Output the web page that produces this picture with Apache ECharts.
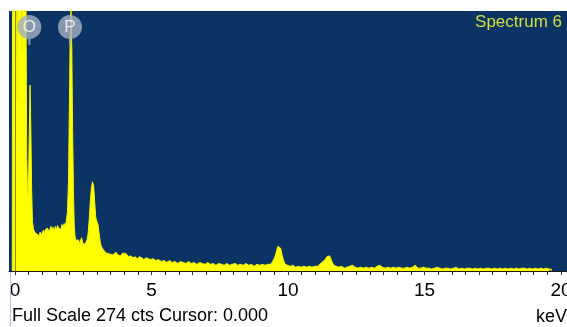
<!DOCTYPE html>
<html><head><meta charset="utf-8">
<script src="https://cdn.jsdelivr.net/npm/echarts@6/dist/echarts.min.js"></script>
<style>html,body{margin:0;padding:0;background:#fff}#c{width:567px;height:327px}</style>
</head><body><div id="c"></div>
<script>
// energies (keV) and counts
const energy = [-0.10,-0.09,0.06,0.08,0.10,0.24,0.26,0.28,0.40,0.43,0.46,0.49,0.52,0.55,0.58,0.61,0.64,0.68,0.72,0.76,0.80,0.84,0.88,0.92,0.96,1.00,1.04,1.08,1.12,1.16,1.20,1.24,1.28,1.32,1.36,1.40,1.44,1.48,1.52,1.56,1.60,1.64,1.68,1.72,1.76,1.80,1.84,1.88,1.92,1.96,1.99,2.02,2.05,2.08,2.11,2.14,2.17,2.20,2.24,2.28,2.32,2.36,2.40,2.44,2.48,2.52,2.56,2.60,2.64,2.68,2.72,2.76,2.80,2.84,2.88,2.92,2.96,3.00,3.04,3.08,3.12,3.16,3.22,3.28,3.34,3.40,3.46,3.52,3.58,3.64,3.70,3.76,3.82,3.88,3.94,4.00,4.08,4.16,4.24,4.32,4.40,4.48,4.56,4.64,4.72,4.80,4.88,4.96,5.06,5.16,5.26,5.36,5.46,5.56,5.66,5.76,5.86,5.96,6.06,6.16,6.26,6.36,6.46,6.56,6.66,6.76,6.86,6.96,7.06,7.16,7.26,7.36,7.46,7.56,7.66,7.76,7.86,7.96,8.06,8.16,8.26,8.36,8.46,8.56,8.66,8.76,8.86,8.96,9.06,9.16,9.26,9.36,9.44,9.52,9.58,9.63,9.68,9.73,9.78,9.84,9.90,9.98,10.08,10.18,10.28,10.38,10.48,10.58,10.68,10.78,10.88,10.98,11.08,11.16,11.24,11.30,11.36,11.42,11.47,11.52,11.57,11.62,11.68,11.76,11.86,11.96,12.06,12.16,12.26,12.36,12.46,12.56,12.66,12.76,12.86,12.96,13.06,13.16,13.26,13.36,13.46,13.56,13.66,13.76,13.86,13.96,14.06,14.16,14.26,14.36,14.46,14.56,14.66,14.76,14.86,14.96,15.06,15.16,15.26,15.36,15.46,15.56,15.66,15.76,15.86,15.96,16.06,16.16,16.26,16.36,16.46,16.56,16.66,16.76,16.86,16.96,17.06,17.16,17.26,17.36,17.46,17.56,17.66,17.76,17.86,17.96,18.06,18.16,18.26,18.36,18.46,18.56,18.66,18.76,18.86,18.96,19.06,19.16,19.26,19.36,19.46,19.56,19.64,19.66];
const counts = [0,300,300,180,300,300,230,300,300,120,78,85,140,196,150,85,52,44,41,43,39,40,37,41,38,40,43,40,44,42,45,41,44,47,43,46,42,47,44,48,45,47,44,49,46,50,47,53,62,95,170,245,275,235,150,85,48,36,32,30,33,29,31,35,30,32,28,30,33,40,55,74,88,94,90,72,56,52,49,40,31,26,23,21,19,20,18,19,17,18,20,17,18,16,19,17,18,15,16,14,15,13,15,14,12,14,13,12,13,11,12,10,11,9,11,9,10,8,10,9,8,10,8,9,7,9,8,7,9,7,8,6,8,7,6,8,6,7,8,6,7,6,8,6,7,5,7,6,7,6,7,7,10,15,21,26,27,24,17,11,7,6,5,6,4,5,4,5,4,5,4,5,5,7,9,11,12,15,17,16,13,9,6,5,4,5,3,4,5,6,4,3,4,3,4,3,4,3,5,6,4,3,4,3,4,3,4,3,3,4,3,4,6,3,3,4,3,3,2,3,4,3,2,3,3,2,3,4,2,3,2,3,3,2,3,2,3,2,3,3,2,3,2,3,2,3,2,3,2,3,2,3,3,2,3,2,3,2,3,2,3,2,2,0];
const majorTicks = [0,5,10,15,20];
const tickStep = 0.5;
const fullScale = 274;
const elementNames = ['O','P'];
const elementEnergies = [0.525,2.013];
const markerLevel = 254;
const spectrumName = 'Spectrum 6';
const cursorValue = 0.000;

const minorTicks = [];
for (let v = 0; v <= 20 + 1e-9; v += tickStep) minorTicks.push(Math.round(v*10)/10);

const chart = echarts.init(document.getElementById('c'), null, {renderer:'canvas'});
const FONT = '"Liberation Sans", Arial, sans-serif';
chart.setOption({
  animation:false,
  grid:{left:9, right:0, top:11, bottom:56, show:true, backgroundColor:'#0b3464', borderWidth:0, outerBoundsMode:'none', containLabel:false},
  xAxis:{type:'value', min:-0.22, max:20.22,
    axisLine:{show:true, onZero:false, lineStyle:{color:'#1a1a1a', width:1}},
    axisTick:{show:true, customValues:minorTicks, length:4, inside:false, lineStyle:{color:'#333', width:1}},
    axisLabel:{customValues:majorTicks, fontSize:19, fontFamily:FONT, color:'#000', margin:10},
    splitLine:{show:false}},
  yAxis:{type:'value', min:0, max:fullScale, show:false, splitLine:{show:false}},
  series:[
    {type:'line', data:energy.map((e,i)=>[e,counts[i]]), showSymbol:false, clip:true,
     lineStyle:{color:'#f4f400', width:1}, areaStyle:{color:'#ffff00', opacity:1}, z:2,
     markLine:{silent:true, symbol:'none', label:{show:false},
       lineStyle:{color:'rgba(40,45,60,0.55)', width:1, type:'solid'},
       data:[{xAxis:cursorValue}]}},
    {type:'scatter', z:5, clip:false,
     data:elementNames.map((n,i)=>({name:n, value:[elementEnergies[i], markerLevel]})),
     symbol:'path://M12,0 A12,12 0 1,1 11.99,0 Z M11,23 L13,23 L13,30 L11,30 Z',
     symbolSize:[24,30],
     itemStyle:{color:'#a5b0c2'},
     label:{show:true, formatter:p=>p.name, position:'inside', offset:[0,-3], color:'#fff', fontSize:17, fontFamily:FONT}}
  ],
  graphic:[
    {type:'text', z:10, style:{text:spectrumName, x:562, y:22, align:'right', verticalAlign:'middle', font:'17px '+FONT, fill:'#d4de3a'}},
    {type:'text', z:10, style:{text:'Full Scale '+fullScale+' cts Cursor: '+cursorValue.toFixed(3), x:12, y:316, align:'left', verticalAlign:'middle', font:'18px '+FONT, fill:'#000'}},
    {type:'text', z:10, style:{text:'keV', x:567, y:317, align:'right', verticalAlign:'middle', font:'18px '+FONT, fill:'#000'}},
    {type:'line', z:10, shape:{x1:10.5, y1:272, x2:10.5, y2:327}, style:{stroke:'#a9c8e8', lineWidth:1}}
  ]
});
</script></body></html>
